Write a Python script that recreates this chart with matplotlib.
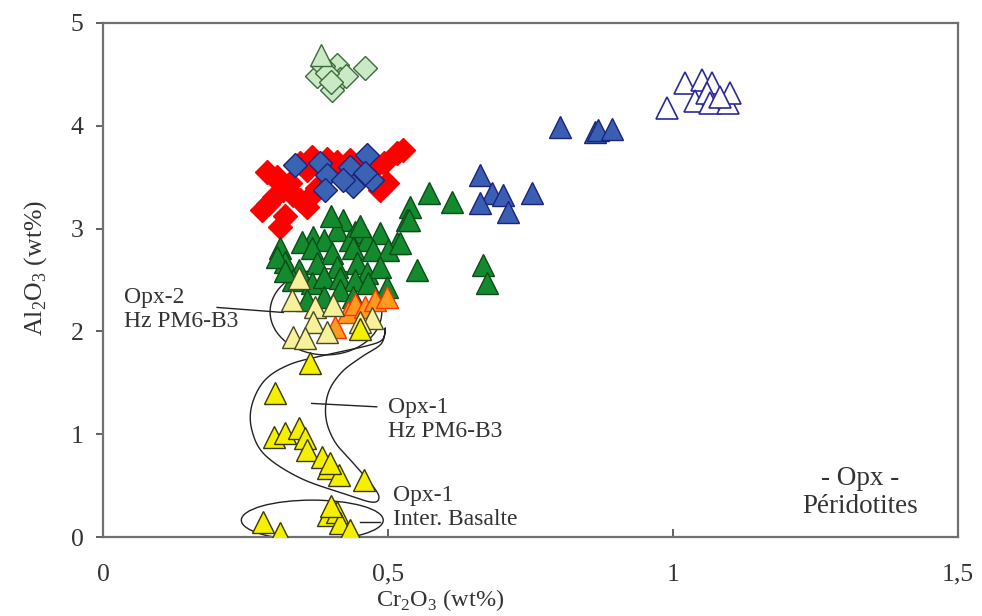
import numpy as np
import matplotlib
matplotlib.use("Agg")
import matplotlib.pyplot as plt
from matplotlib.patches import Ellipse

plt.rcParams['font.family'] = ['Liberation Serif', 'DejaVu Serif']
plt.rcParams['mathtext.fontset'] = 'custom'
plt.rcParams['mathtext.rm'] = 'Liberation Serif'

# ---------------- data (Cr2O3 wt%, Al2O3 wt%) ----------------
lgreen_tri_x = [0.383]
lgreen_tri_y = [4.69]
lgreen_dia_x = [0.41, 0.375, 0.416, 0.401, 0.46, 0.427, 0.386, 0.392, 0.40]
lgreen_dia_y = [4.59, 4.48, 4.45, 4.35, 4.56, 4.48, 4.58, 4.51, 4.42]

red_x = [0.287, 0.305, 0.308, 0.316, 0.328, 0.334, 0.346, 0.363, 0.357, 0.311,
         0.278, 0.299, 0.346, 0.366, 0.392, 0.41, 0.433, 0.451, 0.471, 0.492,
         0.515, 0.527, 0.486, 0.498, 0.375, 0.357, 0.29, 0.32]
red_y = [3.554, 3.505, 3.457, 3.375, 3.44, 3.327, 3.278, 3.31, 3.213, 3.018,
         3.18, 3.31, 3.635, 3.70, 3.68, 3.65, 3.67, 3.635, 3.57, 3.635,
         3.73, 3.765, 3.375, 3.44, 3.39, 3.57, 3.24, 3.12]

blue_dia_x = [0.337, 0.381, 0.392, 0.389, 0.433, 0.463, 0.439, 0.471, 0.46, 0.421]
blue_dia_y = [3.62, 3.635, 3.52, 3.375, 3.60, 3.716, 3.41, 3.47, 3.54, 3.47]

green_x = [0.4216, 0.41, 0.442, 0.486, 0.369, 0.349, 0.387, 0.433, 0.463, 0.515,
           0.311, 0.366, 0.401, 0.439, 0.474, 0.50, 0.539, 0.533, 0.571, 0.55,
           0.319, 0.343, 0.375, 0.41, 0.445, 0.463, 0.486, 0.334, 0.366, 0.387,
           0.416, 0.442, 0.465, 0.498, 0.387, 0.416, 0.357, 0.439, 0.305, 0.612,
           0.536, 0.521, 0.667, 0.673, 0.319, 0.40, 0.45]
green_y = [3.084, 2.986, 2.97, 2.954, 2.921, 2.873, 2.889, 2.889, 2.889, 2.857,
           2.808, 2.808, 2.76, 2.808, 2.79, 2.79, 3.213, 3.084, 3.343, 2.597,
           2.678, 2.597, 2.662, 2.63, 2.662, 2.565, 2.63, 2.5, 2.468, 2.532,
           2.516, 2.5, 2.468, 2.435, 2.338, 2.403, 2.305, 2.338, 2.727, 3.262,
           3.08, 2.857, 2.646, 2.468, 2.59, 3.12, 3.02]

blue_tri_x = [0.661, 0.682, 0.661, 0.702, 0.711, 0.752, 0.802, 0.863, 0.869, 0.892]
blue_tri_y = [3.52, 3.343, 3.246, 3.327, 3.165, 3.343, 3.99, 3.94, 3.96, 3.97]

open_tri_x = [0.989, 1.021, 1.05, 1.068, 1.039, 1.059, 1.065, 1.097, 1.10, 1.082]
open_tri_y = [4.17, 4.41, 4.44, 4.41, 4.24, 4.32, 4.22, 4.22, 4.32, 4.28]

orange_x = [0.43, 0.442, 0.46, 0.477, 0.498, 0.407]
orange_y = [2.19, 2.27, 2.24, 2.305, 2.338, 2.046]

pale_x = [0.343, 0.331, 0.372, 0.404, 0.369, 0.392, 0.334, 0.354, 0.471, 0.451]
pale_y = [2.516, 2.305, 2.24, 2.257, 2.095, 1.997, 1.948, 1.932, 2.127, 2.095]

yellow_x = [0.451, 0.363, 0.302, 0.299, 0.319, 0.343, 0.354, 0.357, 0.384, 0.395,
            0.413, 0.457, 0.398, 0.281, 0.311, 0.395, 0.41, 0.416, 0.433, 0.40]
yellow_y = [2.02, 1.69, 1.398, 0.976, 1.008, 1.057, 0.96, 0.846, 0.781, 0.668,
            0.603, 0.555, 0.717, 0.149, 0.036, 0.214, 0.246, 0.133, 0.068, 0.30]

# outline of the Opx-1 (Hz PM6-B3) field
s_loop_x = [0.495, 0.49, 0.463, 0.39, 0.328, 0.284, 0.261, 0.261, 0.284, 0.346,
            0.425, 0.472, 0.484, 0.472, 0.442, 0.407, 0.391, 0.395, 0.418, 0.453, 0.488]
s_loop_y = [2.03, 1.92, 1.86, 1.77, 1.68, 1.527, 1.284, 1.041, 0.798, 0.574,
            0.418, 0.340, 0.389, 0.506, 0.70, 0.924, 1.158, 1.401, 1.60, 1.75, 1.88]


def closed_spline(px, py, n=30):
    px = np.asarray(px); py = np.asarray(py)
    m = len(px)
    xs, ys = [], []
    t = np.linspace(0, 1, n, endpoint=False)
    for i in range(m):
        p0 = np.array([px[i - 1], py[i - 1]])
        p1 = np.array([px[i], py[i]])
        p2 = np.array([px[(i + 1) % m], py[(i + 1) % m]])
        p3 = np.array([px[(i + 2) % m], py[(i + 2) % m]])
        for tt in t:
            pt = 0.5 * ((2 * p1) + (-p0 + p2) * tt + (2 * p0 - 5 * p1 + 4 * p2 - p3) * tt ** 2
                        + (-p0 + 3 * p1 - 3 * p2 + p3) * tt ** 3)
            xs.append(pt[0]); ys.append(pt[1])
    xs.append(xs[0]); ys.append(ys[0])
    return xs, ys


fig = plt.figure(figsize=(9.82, 6.16), dpi=100)
ax = fig.add_axes([0.105, 0.128, 0.8706, 0.835])
ax.set_xlim(0, 1.5)
ax.set_ylim(0, 5)

# outlines
sx, sy = closed_spline(s_loop_x, s_loop_y)
ax.plot(sx, sy, color='#222222', lw=1.0, zorder=2)
ax.add_patch(Ellipse((0.391, 2.19), 0.196, 0.837, fill=False, ec='#222222', lw=1.0, zorder=2))
ax.add_patch(Ellipse((0.367, 0.165), 0.249, 0.39, fill=False, ec='#222222', lw=1.0, zorder=2))

tri = 16.5
dia = 12
ax.plot(lgreen_dia_x, lgreen_dia_y, 'D', ms=dia, mfc='#c9eac4', mec='#3d6b3d', mew=1.0, ls='none', zorder=3)
ax.plot(lgreen_tri_x, lgreen_tri_y, '^', ms=tri, mfc='#c9eac4', mec='#3d6b3d', mew=1.0, ls='none', zorder=3)
ax.plot(red_x, red_y, 'D', ms=dia, mfc='#ff0000', mec='#ff0000', mew=1.0, ls='none', zorder=3)
ax.plot(blue_dia_x, blue_dia_y, 'D', ms=dia, mfc='#3a63b3', mec='#1b237e', mew=1.0, ls='none', zorder=4)
ax.plot(green_x, green_y, '^', ms=tri, mfc='#148a2f', mec='#0a4d18', mew=1.0, ls='none', zorder=4)
ax.plot(blue_tri_x, blue_tri_y, '^', ms=tri, mfc='#3a5fb2', mec='#1b237e', mew=1.0, ls='none', zorder=4)
ax.plot(open_tri_x, open_tri_y, '^', ms=tri, mfc='white', mec='#2b2b96', mew=1.2, ls='none', zorder=4)
ax.plot(orange_x, orange_y, '^', ms=tri, mfc='#ff9a1e', mec='#ff3300', mew=1.0, ls='none', zorder=5)
ax.plot(pale_x, pale_y, '^', ms=tri, mfc='#f8f19c', mec='#4a4a22', mew=1.0, ls='none', zorder=5)
ax.plot(yellow_x, yellow_y, '^', ms=tri, mfc='#f5ef00', mec='#3a3a00', mew=1.0, ls='none', zorder=5)

# leader lines
ax.plot([0.20, 0.316], [2.233, 2.184], color='#222222', lw=1.0, zorder=6)
ax.plot([0.366, 0.48], [1.30, 1.267], color='#222222', lw=1.0, zorder=6)
ax.plot([0.451, 0.486], [0.149, 0.149], color='#222222', lw=1.0, zorder=6)

tc = '#333333'
fs = 17
ax.text(0.037, 2.21, 'Opx-2\nHz PM6-B3', fontsize=fs, color=tc, ha='left', va='center', linespacing=1.2)
ax.text(0.50, 1.14, 'Opx-1\nHz PM6-B3', fontsize=fs, color=tc, ha='left', va='center', linespacing=1.2)
ax.text(0.509, 0.29, 'Opx-1\nInter. Basalte', fontsize=fs, color=tc, ha='left', va='center', linespacing=1.2)
ax.text(1.328, 0.43, '- Opx -\nPéridotites', fontsize=19.5, color=tc, ha='center', va='center', linespacing=1.15)

# axes styling
for sp in ax.spines.values():
    sp.set_color('#707070')
    sp.set_linewidth(1.6)
ax.set_xticks([0, 0.5, 1, 1.5])
ax.set_xticklabels(['0', '0,5', '1', '1,5'])
ax.set_yticks([0, 1, 2, 3, 4, 5])
ax.tick_params(axis='x', direction='in', length=6, width=1.3, color='#555555', pad=19,
               labelsize=18.5, labelcolor=tc)
ax.tick_params(axis='y', direction='out', length=5, width=1.3, color='#555555', pad=9,
               labelsize=18.5, labelcolor=tc)

fig.text(0.448, 0.005, r'Cr$_\mathregular{2}$O$_\mathregular{3}$ (wt%)', fontsize=17.5, color=tc,
         ha='center', va='bottom')
fig.text(0.036, 0.565, r'Al$_\mathregular{2}$O$_\mathregular{3}$ (wt%)', fontsize=18.5, color=tc,
         ha='center', va='center', rotation=90)

fig.savefig('out.png', dpi=100)
